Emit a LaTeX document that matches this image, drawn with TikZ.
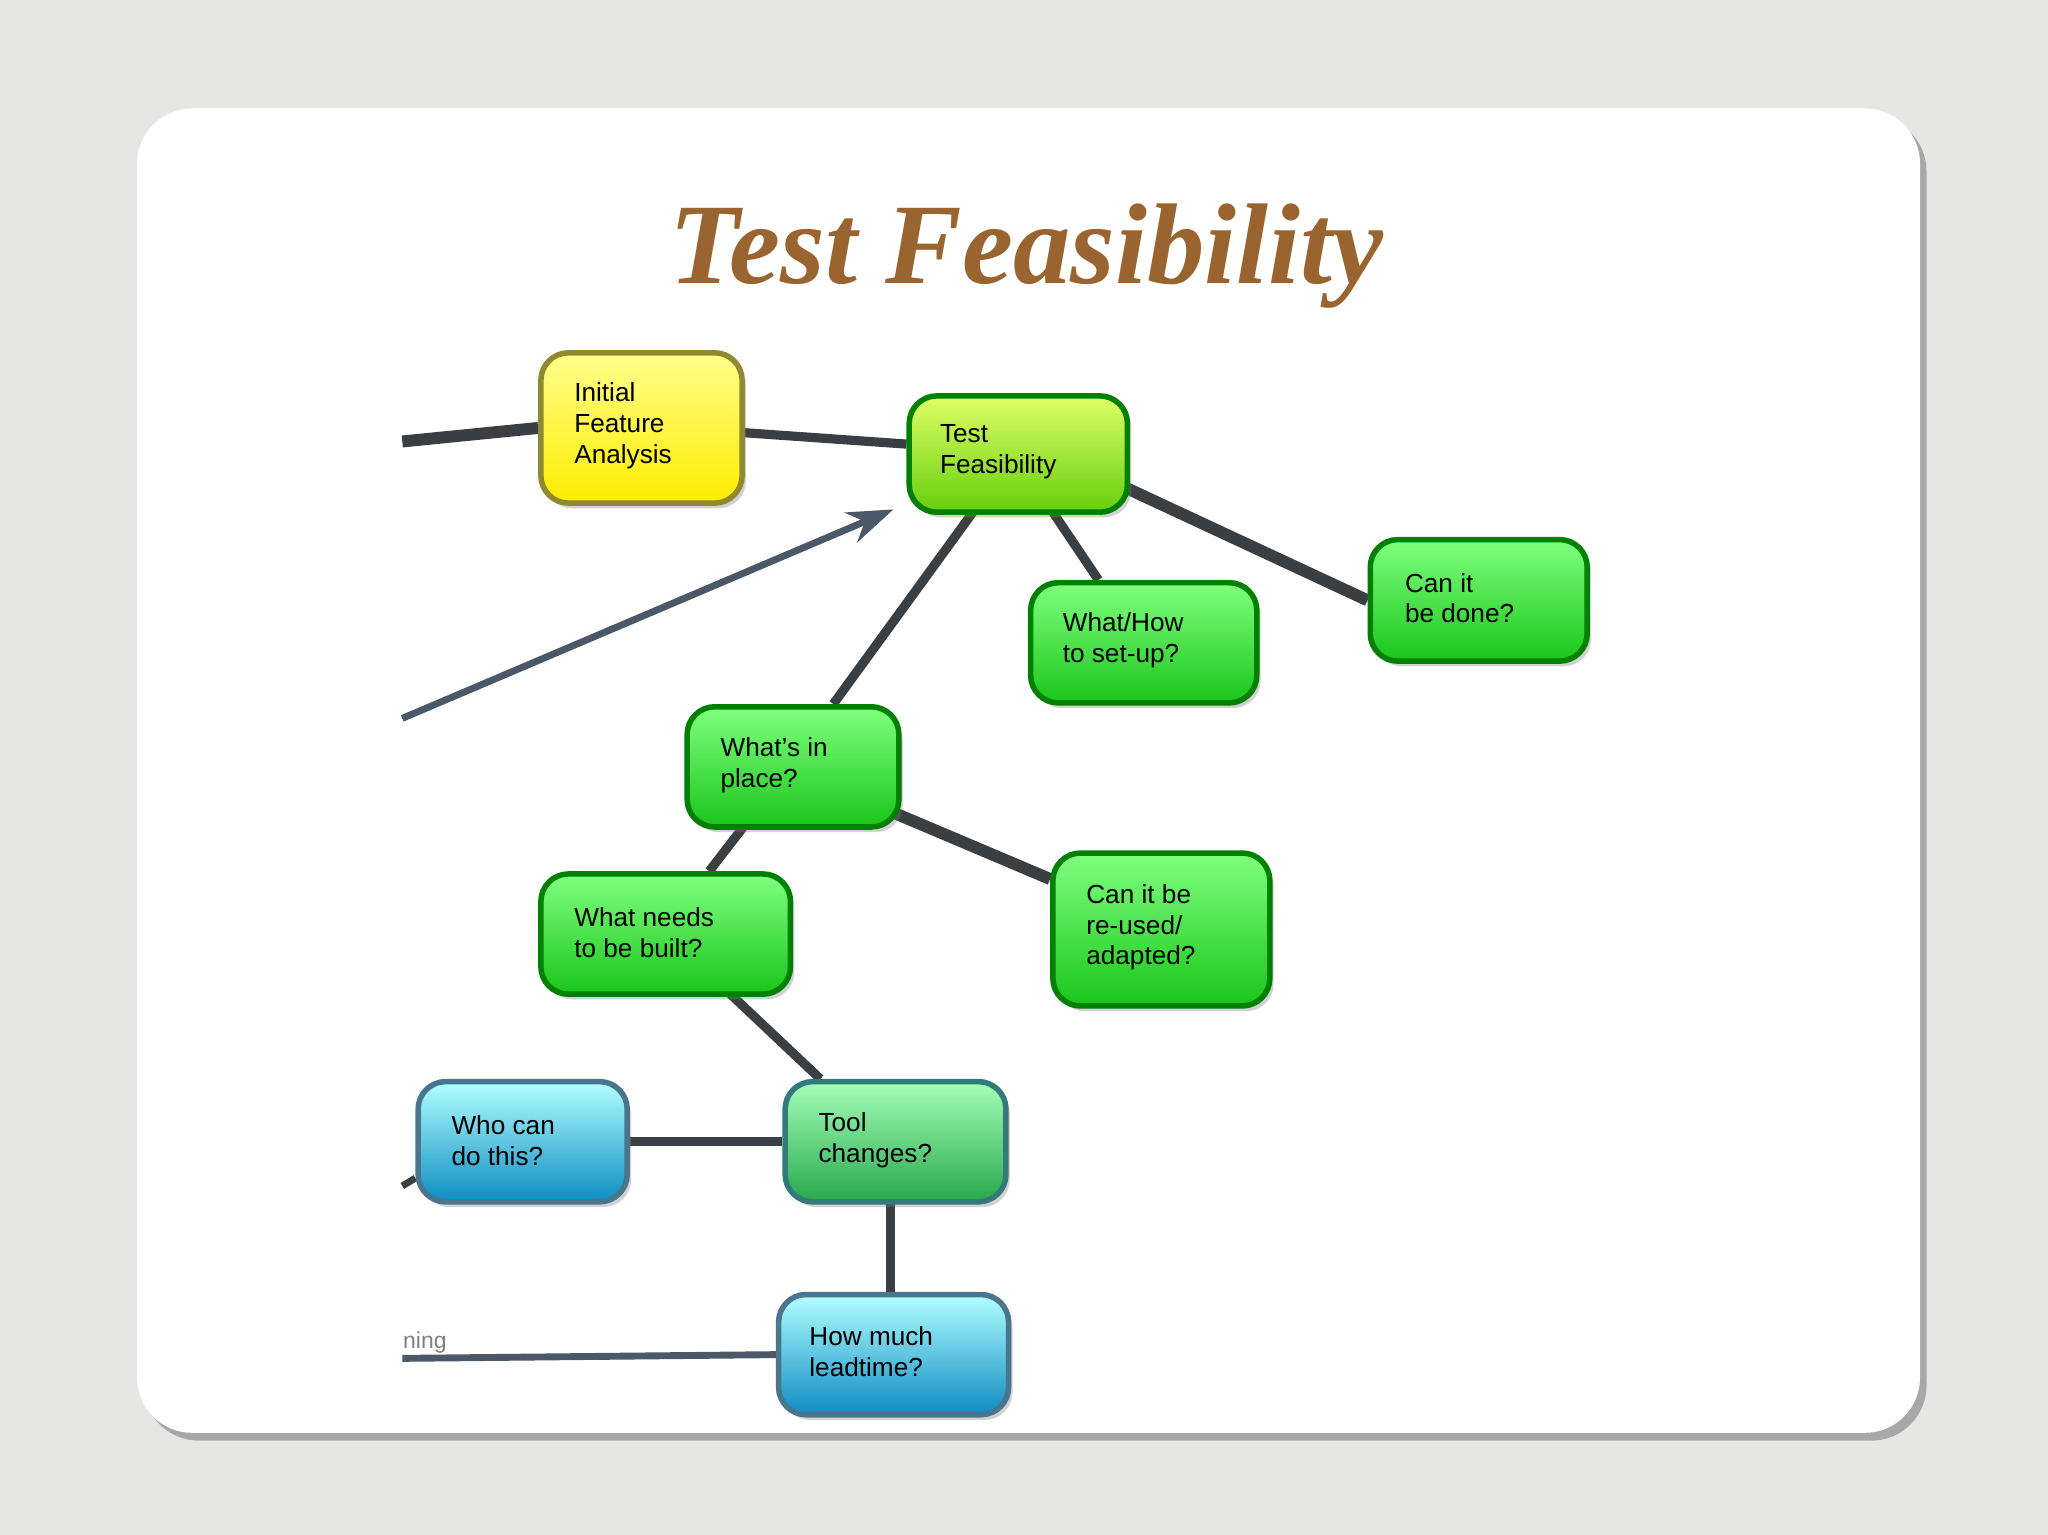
\documentclass[tikz,border=0pt]{standalone}
\usepackage{fontspec}
\setmainfont{Liberation Serif}
\setsansfont{Liberation Sans}
\usetikzlibrary{shadows,arrows.meta}
\pgfdeclarelayer{back}\pgfdeclarelayer{edges}
\pgfsetlayers{back,edges,main}
\definecolor{bg}{HTML}{E6E6E4}
\definecolor{titlec}{HTML}{9A6430}
\definecolor{edge}{HTML}{3A3F44}
\definecolor{arr}{HTML}{4A5868}
\tikzset{
 box/.style={draw=#1, line width=1.2pt, rounded corners=6pt, anchor=north west, inner sep=0pt, drop shadow={opacity=0.35, shadow xshift=0.03cm, shadow yshift=-0.04cm}},
 lbl/.style={align=left, anchor=west, inner sep=0pt, font=\sffamily\fontsize{5.7}{6.7}\selectfont},
 ybox/.style={box=yellow!50!black!70!olive, top color=yellow!45, bottom color=yellow!85!orange},
 lbox/.style={box=green!50!black, top color=green!20!yellow!60, bottom color=green!55!yellow!80!black!95},
 gbox/.style={box=green!50!black, top color=green!50!white, bottom color=green!75!black!90},
 tbox/.style={box=teal!70!black!80, top color=cyan!20!green!35, bottom color=cyan!30!green!60!black!85},
 cbox/.style={box=cyan!50!black, top color=cyan!30, bottom color=cyan!70!blue!75!black!95},
 conn/.style={draw=edge, line width=2pt},
}
\begin{document}
\begin{tikzpicture}[x=0.01cm,y=-0.01cm]
\begin{pgfonlayer}{back}
\fill[bg] (0,0) rectangle (1568,1175);
\fill[white, rounded corners=12pt, drop shadow={opacity=0.6, shadow xshift=0.05cm, shadow yshift=-0.06cm}] (105,83) rectangle (1470,1097);
\end{pgfonlayer}
\node[font=\bfseries\itshape\fontsize{25}{30}\selectfont, text=titlec] (title) at (786,196) {Test Feasibility};
% nodes
\node[ybox, minimum width=1.54cm, minimum height=1.15cm] (ifa) at (412,268) {};
\node[lbl] (t1) at (439,326) {Initial\\Feature\\Analysis};
\node[lbox, minimum width=1.67cm, minimum height=0.89cm] (tf) at (694,301) {};
\node[lbl] (t2) at (719,346) {Test\\Feasibility};
\node[gbox, minimum width=1.73cm, minimum height=0.92cm] (wh) at (787,444) {};
\node[lbl] (t3) at (813,490) {What/How\\to set-up?};
\node[gbox, minimum width=1.66cm, minimum height=0.93cm] (cd) at (1047,411) {};
\node[lbl] (t4) at (1075,458) {Can it\\be done?};
\node[gbox, minimum width=1.62cm, minimum height=0.92cm] (wp) at (524,539) {};
\node[lbl] (t5) at (551,586) {What's in\\place?};
\node[gbox, minimum width=1.66cm, minimum height=1.17cm] (ru) at (804,651) {};
\node[lbl] (t6) at (831,710) {Can it be\\re-used/\\adapted?};
\node[gbox, minimum width=1.91cm, minimum height=0.92cm] (wn) at (412,667) {};
\node[lbl] (t7) at (439,714) {What needs\\to be built?};
\node[cbox, minimum width=1.60cm, minimum height=0.92cm] (wc) at (318,826) {};
\node[lbl] (t8) at (345,873) {Who can\\do this?};
\node[tbox, minimum width=1.69cm, minimum height=0.92cm] (tc) at (599,826) {};
\node[lbl] (t9) at (626,873) {Tool\\changes?};
\node[cbox, minimum width=1.76cm, minimum height=0.92cm] (hm) at (594,989) {};
\node[lbl] (t10) at (619,1035) {How much\\leadtime?};
% free ends
\coordinate (l1) at (308,338);
\coordinate (l2) at (308,550);
\coordinate (l3) at (308,908);
\coordinate (l4) at (308,1040);
\coordinate (ah) at (684,390);
\node[font=\sffamily\fontsize{5}{6}\selectfont, text=gray, anchor=west, inner sep=0pt] (ning) at (308,1028) {ning};
\begin{pgfonlayer}{edges}
\draw[conn, line width=2.6pt] (l1) -- (ifa.west);
\draw[conn] (566,331) -- (694,340);
\draw[conn, line width=2.6pt] (861,373) -- (cd.west);
\draw[conn] (806,392) -- (841,444);
\draw[conn] (745,392) -- (638,539);
\draw[draw=arr, line width=1.5pt, -{Stealth[length=10pt,width=7pt]}] (l2) -- (ah);
\draw[conn, line width=2.6pt] (686,623) -- (804,673);
\draw[conn] (570,632) -- (543,667);
\draw[conn] (557,759) -- (628,826);
\draw[conn] (wc.east) -- (tc.west);
\draw[conn] (682,918) -- (682,989);
\draw[conn, line width=1.5pt] (l3) -- (318,902);
\draw[draw=arr, line width=1.5pt] (l4) -- (hm.west);
\end{pgfonlayer}
\end{tikzpicture}
\end{document}
